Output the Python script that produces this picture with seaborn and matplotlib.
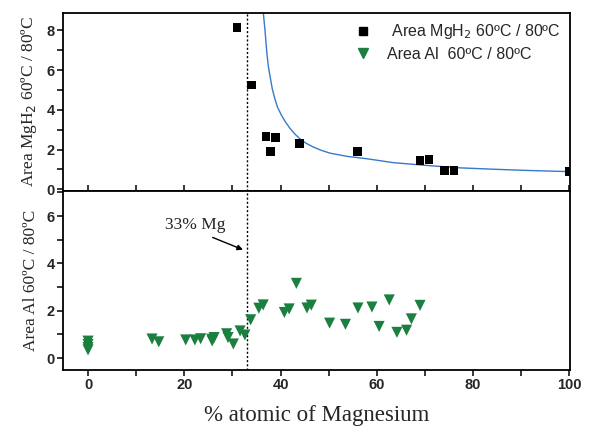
import matplotlib
matplotlib.use("Agg")
import matplotlib.pyplot as plt
import numpy as np
import pandas as pd
import seaborn as sns

# Upper panel: MgH2 peak area ratio (60 ºC / 80 ºC)
mgh2_mg = [31.0, 34.0, 37.0, 37.9, 39.0, 44.0, 56.0, 69.0, 70.9, 74.1, 76.1, 100.0]
mgh2_ratio = [8.15, 5.25, 2.65, 1.90, 2.60, 2.30, 1.90, 1.45, 1.50, 0.95, 0.95, 0.90]

# Fitted trend curve through the MgH2 ratios
fit_mg = [36.4, 36.6, 36.8, 37.0, 37.2, 37.5, 37.9, 38.3, 38.8, 39.4, 40.2,
          41.0, 42.0, 43.0, 44.0, 45.3, 46.8, 48.5, 50.3, 53.8, 57.9, 63.5,
          70.4, 77.3, 84.3, 91.2, 100.0]
fit_ratio = [8.95, 8.45, 7.95, 7.35, 6.77, 6.15, 5.59, 5.05, 4.58, 4.12, 3.73,
             3.40, 3.06, 2.78, 2.55, 2.32, 2.13, 1.96, 1.82, 1.66, 1.54, 1.34,
             1.20, 1.08, 1.01, 0.95, 0.89]

# Lower panel: Al peak area ratio (60 ºC / 80 ºC)
al_mg = [0.0, 0.0, 0.0, 0.0, 13.3, 14.7, 20.3, 22.2, 23.4, 25.7, 26.2, 25.8,
         28.8, 29.1, 30.2, 31.6, 32.6, 33.8, 35.5, 36.4, 40.8, 41.8, 43.3,
         45.5, 46.4, 50.2, 53.5, 56.1, 59.0, 60.5, 62.6, 64.2, 66.2, 67.2, 69.0]
al_ratio = [0.72, 0.58, 0.45, 0.35, 0.81, 0.69, 0.77, 0.77, 0.82, 0.80, 0.87,
            0.73, 1.03, 0.87, 0.60, 1.15, 0.98, 1.62, 2.11, 2.25, 1.93, 2.08,
            3.16, 2.12, 2.24, 1.48, 1.43, 2.12, 2.16, 1.34, 2.46, 1.09, 1.18,
            1.66, 2.23]

threshold_mg = 33.0
x_ticks = [0, 20, 40, 60, 80, 100]

upper = pd.DataFrame({"mg": mgh2_mg, "ratio": mgh2_ratio})
trend = pd.DataFrame({"mg": fit_mg, "ratio": fit_ratio})
lower = pd.DataFrame({"mg": al_mg, "ratio": al_ratio})

sns.set_theme(style="ticks")
plt.rcParams["font.family"] = ["Liberation Sans", "DejaVu Sans"]
plt.rcParams["axes.linewidth"] = 1.3
plt.rcParams["xtick.major.width"] = 1.1
plt.rcParams["ytick.major.width"] = 1.1
plt.rcParams["xtick.minor.width"] = 1.1
plt.rcParams["ytick.minor.width"] = 1.1

green = "#1b803f"
blue = "#3a78cc"
serif = ["Liberation Serif", "DejaVu Serif"]

fig, (ax1, ax2) = plt.subplots(2, 1, figsize=(5.89, 4.33), dpi=100, sharex=True)
fig.subplots_adjust(left=0.107, right=0.968, top=0.971, bottom=0.1455, hspace=0)

# --- upper panel
sns.lineplot(data=trend, x="mg", y="ratio", ax=ax1, color=blue, lw=1.0,
             sort=False, legend=False)
sns.scatterplot(data=upper, x="mg", y="ratio", ax=ax1, marker="s", s=38,
                color="black", edgecolor="none", zorder=3)
ax1.axvline(threshold_mg, color="black", ls=(0, (1.5, 1.5)), lw=1.0)
ax1.set_ylim(-0.1, 8.9)
ax1.set_yticks([0, 2, 4, 6, 8])
ax1.set_yticks([1, 3, 5, 7], minor=True)
ax1.set_ylabel("Area MgH$_2$ 60ºC / 80ºC", family=serif, fontsize=12.5,
               labelpad=5)

h_sq = plt.Line2D([], [], marker="s", ls="", color="black", markersize=6)
h_tri = plt.Line2D([], [], marker="v", ls="", color=green, markersize=7.5)
ax1.legend([h_sq, h_tri], [" Area MgH$_2$ 60ºC / 80ºC", "Area Al  60ºC / 80ºC"],
           loc="upper right", frameon=False, fontsize=11.5, handletextpad=0.5,
           borderaxespad=0.2, labelspacing=0.35, bbox_to_anchor=(1.0, 1.0))

# --- lower panel
sns.scatterplot(data=lower, x="mg", y="ratio", ax=ax2, marker="v", s=64,
                color=green, edgecolor="none", zorder=3)
ax2.axvline(threshold_mg, color="black", ls=(0, (1.5, 1.5)), lw=1.0)
ax2.set_ylim(-0.5, 7.05)
ax2.set_yticks([0, 2, 4, 6])
ax2.set_yticks([1, 3, 5, 7], minor=True)
ax2.set_ylabel("Area Al 60ºC / 80ºC", family=serif, fontsize=12.5, labelpad=5)
ax2.text(22.2, 5.62, "33% Mg", family=serif, fontsize=12.5,
         ha="center", va="center")
ax2.annotate("", xy=(32.2, 4.58), xytext=(25.9, 5.1),
             arrowprops=dict(arrowstyle="-|>", color="black", lw=1.0,
                             mutation_scale=8, shrinkA=0, shrinkB=0))

ax2.set_xlim(-5.2, 100.2)
ax2.set_xticks(x_ticks)
ax2.set_xticks([10, 30, 50, 70, 90], minor=True)
ax2.set_xlabel("% atomic of Magnesium", family=serif, fontsize=16.5, labelpad=9)

for ax in (ax1, ax2):
    for s in ax.spines.values():
        s.set_visible(True)
        s.set_color("black")
    ax.tick_params(which="both", direction="out", length=4, color="black",
                   labelsize=10.5, pad=2)
    for lab in ax.get_yticklabels() + ax.get_xticklabels():
        lab.set_fontweight("bold")

ax1.tick_params(axis="x", which="both", length=4, labelbottom=False)
ax2.tick_params(axis="x", which="both", top=True, labeltop=False, length=4)

fig.savefig("out.png", dpi=100)
